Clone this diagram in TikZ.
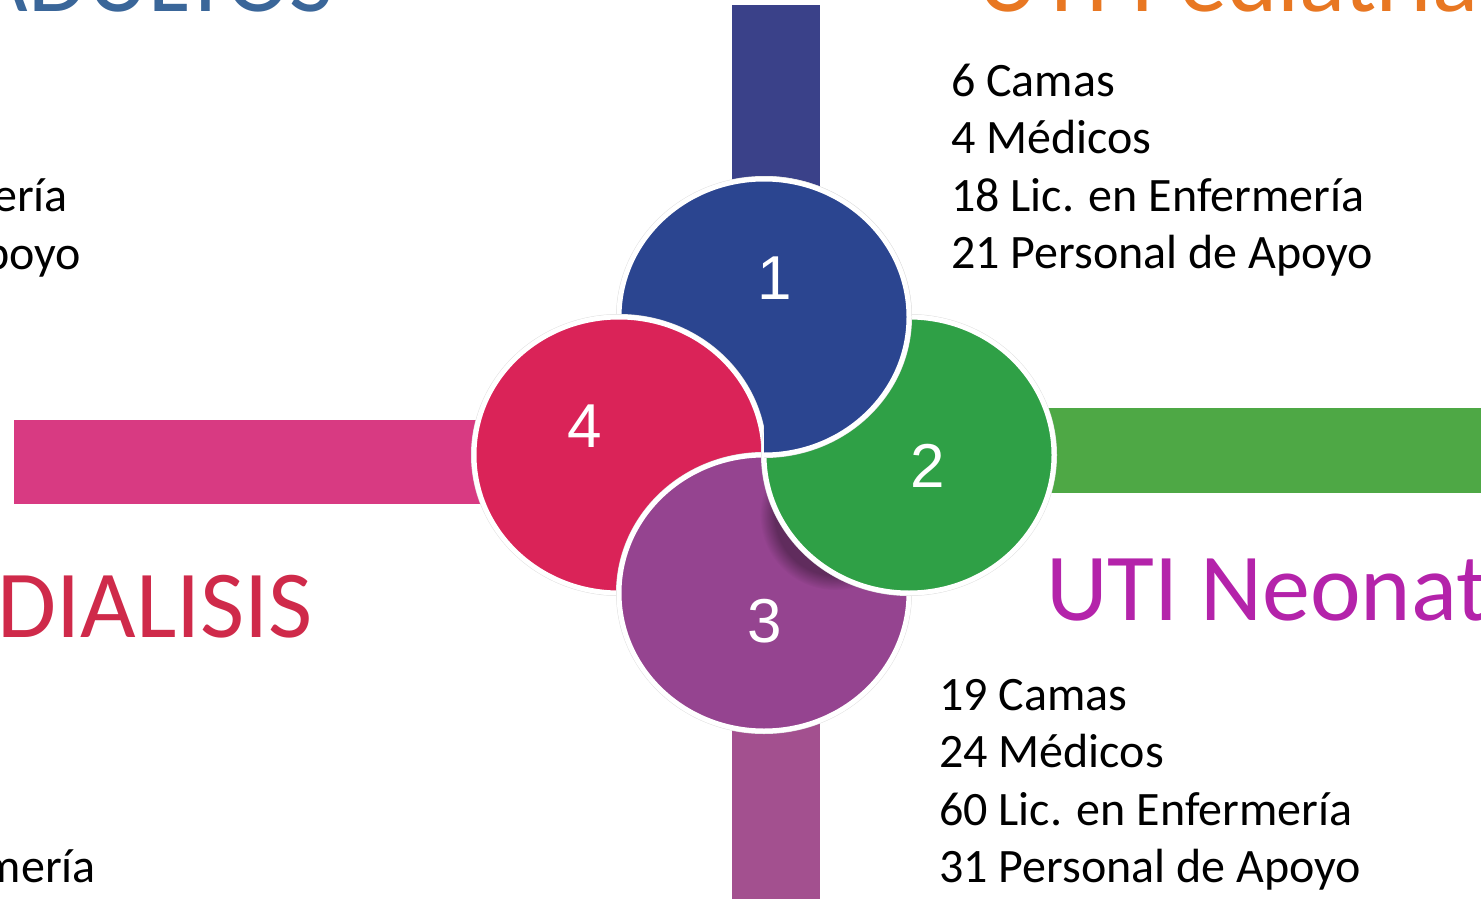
\documentclass[tikz,border=0pt]{standalone}
\usepackage{fontspec}
\setmainfont{Carlito}
\newfontfamily\numfont{Liberation Sans}
\usepackage{tikz}
\usetikzlibrary{calc,fadings}
\definecolor{petalBlue}{HTML}{2B4590}
\definecolor{petalGreen}{HTML}{2FA046}
\definecolor{petalPurple}{HTML}{954490}
\definecolor{petalRed}{HTML}{DA2358}
\definecolor{barBlue}{HTML}{3A4189}
\definecolor{barGreen}{HTML}{4EA845}
\definecolor{barPurple}{HTML}{A3508F}
\definecolor{barPink}{HTML}{D83A82}
\definecolor{titleBlue}{HTML}{3A6699}
\definecolor{titleOrange}{HTML}{E87722}
\definecolor{titleMagenta}{HTML}{B423AA}
\definecolor{titleCrimson}{HTML}{CF2A4A}
\newcommand{\drawPetal}[3]{% center: x,y; colour
  \fill[black!12] (#1,#2) ellipse (148pt and 141pt);
  \draw[fill=#3,draw=white,line width=5pt] (#1,#2) ellipse (145pt and 138pt);
}
\tikzset{
  info/.style={font=\fontsize{48}{58}\selectfont,inner sep=0pt,anchor=base west},
  title/.style={font=\fontsize{96}{100}\selectfont,inner sep=0pt,anchor=base west},
  num/.style={font=\numfont\fontsize{62}{62}\selectfont,text=white,inner sep=0pt}
}

\begin{document}
\begin{tikzpicture}[x=1pt,y=-1pt]
\useasboundingbox (0,0) rectangle (1481,899);
% Reference grid (temporary)
%\draw[help lines,step=100] (0,0) grid (1481,899);

% Bars
\fill[barBlue] (732,5) rectangle (820,250);
\fill[barGreen] (1000,408) rectangle (1481,493);
\fill[barPurple] (732,650) rectangle (820,899);
\fill[barPink] (14,420) rectangle (520,504);

% Petals (1 under 4 under 3 under 2, then 1 again over 2)
\drawPetal{764}{317}{petalBlue}
\drawPetal{619}{455}{petalRed}
\drawPetal{764}{593}{petalPurple}
\begin{scope}
  \clip (764,593) ellipse (142pt and 135pt);
  \fill[black,opacity=0.35,path fading=circle with fuzzy edge 20 percent] (835,515) circle (75pt);
\end{scope}
\drawPetal{909}{455}{petalGreen}
\begin{scope}
  \clip (764,150) rectangle (1100,470);
  \drawPetal{764}{317}{petalBlue}
\end{scope}

\node[num] (n1) at (775,278) {1};
\node[num] (n2) at (928,466) {2};
\node[num] (n3) at (765,621) {3};
\node[num] (n4) at (585,426) {4};

% Titles
\node[title,text=titleBlue,anchor=base east] (adultos) at (334,12) {ADULTOS};
\node[title,text=titleOrange] (pediatria) at (977,12) {UTI Pediatría};
\node[title,text=titleMagenta] (neonat) at (1046,620) {UTI Neonatal};
\node[title,text=titleCrimson] (dialisis) at (-3,637) {DIALISIS};

% Staff lists
\foreach \t [count=\i] in {6 Camas,4 Médicos,18 Lic. en Enfermería,21 Personal de Apoyo}
  \node[info] (ped\i) at (951,{96+57.6*(\i-1)}) {\t};
\foreach \t [count=\i] in {19 Camas,24 Médicos,60 Lic. en Enfermería,31 Personal de Apoyo}
  \node[info] (neo\i) at (939,{710+57.6*(\i-1)}) {\t};

% Cut-off lines on the left
\node[info,anchor=base east] (adu3) at (68,211) {ería};
\node[info,anchor=base east] (adu4) at (81,269) {poyo};
\node[info,anchor=base east] (dia3) at (96,882) {mería};

\end{tikzpicture}
\end{document}
